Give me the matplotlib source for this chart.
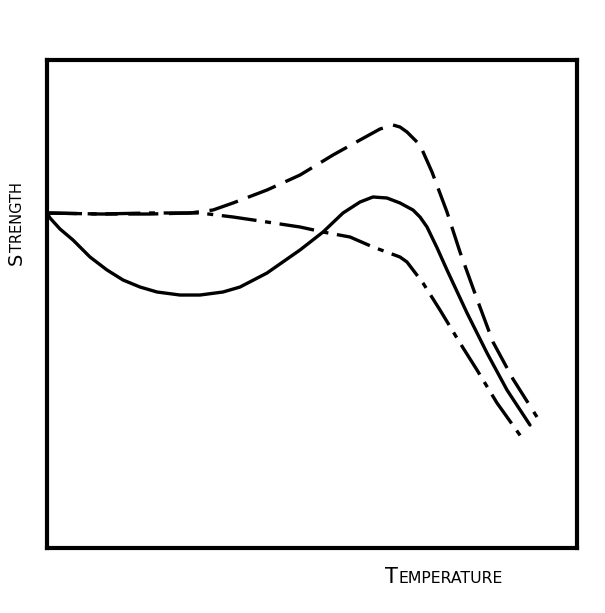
import matplotlib
matplotlib.use("Agg")
import matplotlib.pyplot as plt

# Data (arbitrary units: temperature 0-100, strength 0-100)
solid_x = [0, 0.57, 2.45, 4.91, 8.11, 11.32, 14.34, 17.55, 20.75, 25.09, 28.87, 33.21, 36.42,
           41.51, 47.74, 52.08, 55.85, 59.06, 61.51, 64.15, 66.60, 69.06, 70.40, 71.70, 73.60,
           75.47, 79.25, 83.02, 86.79, 91.13]
solid_y = [68.65, 67.62, 65.37, 63.11, 59.63, 56.97, 54.92, 53.48, 52.46, 51.84, 51.84, 52.46,
           53.48, 56.35, 61.07, 64.75, 68.65, 70.90, 71.93, 71.72, 70.70, 69.26, 67.80, 65.78,
           61.50, 56.97, 48.16, 39.96, 32.38, 25.20]

dash_x = [0, 10.0, 19.43, 26.98, 31.32, 35.09, 41.51, 47.74, 53.96, 59.06, 62.83, 65.28, 66.60,
          67.92, 70.38, 72.64, 75.47, 77.92, 81.13, 84.15, 87.92, 92.45]
dash_y = [68.65, 68.44, 68.44, 68.65, 69.26, 70.70, 73.36, 76.43, 80.53, 83.61, 85.86, 86.68,
          86.27, 85.25, 82.58, 77.05, 68.85, 60.66, 51.02, 42.21, 34.63, 26.84]

dashdot_x = [0, 10.0, 19.43, 28.87, 35.09, 41.51, 47.74, 52.08, 57.17, 61.51, 66.60, 67.92,
             70.94, 74.15, 77.92, 81.13, 84.91, 89.62]
dashdot_y = [68.65, 68.44, 68.65, 68.65, 67.83, 66.80, 65.78, 64.75, 63.73, 61.68, 59.63, 58.61,
             54.30, 48.77, 42.01, 36.48, 29.71, 22.54]

x_label = "Temperature"
y_label = "Strength"

W, H = 605, 613
fig = plt.figure(figsize=(W / 100, H / 100), dpi=100)
ax = fig.add_axes([47 / W, 1 - 548 / H, 530 / W, 488 / H])
ax.set_xlim(0, 100)
ax.set_ylim(0, 100)
ax.set_xticks([])
ax.set_yticks([])
for s in ax.spines.values():
    s.set_linewidth(3.0)
    s.set_color("black")

lw = 2.4
common = dict(color="black", lw=lw, solid_joinstyle="round", solid_capstyle="round",
              dash_capstyle="butt", dash_joinstyle="round")
ax.plot(solid_x, solid_y, **common)
ax.plot(dash_x, dash_y, dashes=(9.0, 3.2), **common)
ax.plot(dashdot_x, dashdot_y, dashes=(10.5, 2.6, 1.8, 2.6), **common)

fonts = ["DejaVu Sans"]


def small_caps(word, x, y, rotation, big, small):
    """Draw word in small caps starting at baseline point (x, y) in figure pixels."""
    fig.canvas.draw()
    r = fig.canvas.get_renderer()
    first = fig.text(x / W, 1 - y / H, word[0].upper(), fontsize=big, family=fonts,
                     rotation=rotation, rotation_mode="anchor", ha="left", va="baseline")
    bb = first.get_window_extent(r)
    if rotation == 90:
        adv = bb.height + 1
        fig.text(x / W, 1 - (y - adv) / H, word[1:].upper(), fontsize=small, family=fonts,
                 rotation=rotation, rotation_mode="anchor", ha="left", va="baseline")
    else:
        adv = bb.width + 1
        fig.text((x + adv) / W, 1 - y / H, word[1:].upper(), fontsize=small, family=fonts,
                 rotation=rotation, rotation_mode="anchor", ha="left", va="baseline")


small_caps(y_label, 22, 265, 90, 14, 10.5)
small_caps(x_label, 385, 583, 0, 15, 11.3)

fig.savefig("out.png", dpi=100, facecolor="white")
